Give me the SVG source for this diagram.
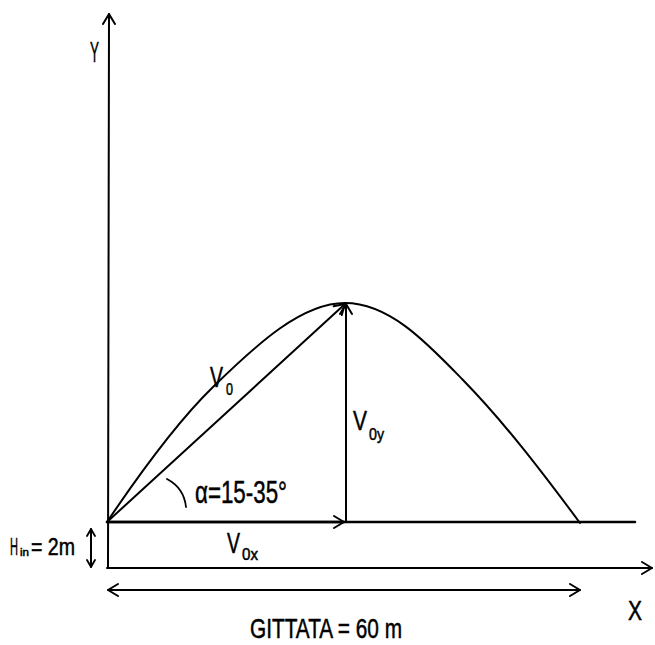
<svg xmlns="http://www.w3.org/2000/svg" width="655" height="645" viewBox="0 0 655 645">
<style>
.ln{stroke:#000;stroke-width:2;fill:none;stroke-linecap:round}
.t{font-family:"Liberation Sans Narrow","Liberation Sans",Arial,sans-serif;fill:#000;stroke:#000;stroke-width:0.5}
</style>
<defs>
<marker id="ah" markerUnits="userSpaceOnUse" markerWidth="14" markerHeight="16" refX="11" refY="7" orient="auto-start-reverse" viewBox="0 0 14 16">
<path d="M1,1 L11,7 L1,13" fill="none" stroke="#000" stroke-width="2" stroke-linecap="round" stroke-linejoin="round"/>
</marker>
<marker id="ahs" markerUnits="userSpaceOnUse" markerWidth="10" markerHeight="12" refX="8" refY="5" orient="auto-start-reverse" viewBox="0 0 10 12">
<path d="M1,1 L8,5 L1,9" fill="none" stroke="#000" stroke-width="1.8" stroke-linecap="round" stroke-linejoin="round"/>
</marker>
</defs>
<rect width="655" height="645" fill="#fff"/>

<g id="trajectory">
<path class="ln" d="M107,522 C142,470 178,421 213,387 C258,343 302,303 345,303 C390,303 428,344 463,380 C503,421 540,469 580,523"/>
</g>

<g id="connectors">
<line id="y-axis" class="ln" x1="108" y1="568" x2="109" y2="14" marker-end="url(#ah)"/>
<line id="ground" class="ln" x1="107" y1="522" x2="635" y2="522" style="stroke-width:2.5"/>
<line id="x-axis" class="ln" x1="107" y1="568" x2="652" y2="568" marker-end="url(#ah)"/>
<line id="v0" class="ln" x1="107" y1="522" x2="345" y2="304" marker-end="url(#ah)"/>
<line id="v0y" class="ln" x1="346" y1="522" x2="346" y2="304" marker-end="url(#ah)"/>
<line id="v0x" class="ln" x1="107" y1="522" x2="344" y2="522" marker-end="url(#ah)" style="stroke-width:2.5"/>
<line id="gittata" class="ln" x1="108" y1="590" x2="580" y2="590" marker-start="url(#ah)" marker-end="url(#ah)"/>
<line id="hin" class="ln" x1="91" y1="529" x2="91" y2="567" marker-start="url(#ahs)" marker-end="url(#ahs)"/>
<path id="angle-arc" class="ln" d="M167,479 Q184,488 186,507" style="stroke-width:1.8"/>
</g>

<g id="label-y"><text class="t" x="90" y="62" font-size="30" textLength="9" lengthAdjust="spacingAndGlyphs">Y</text></g>
<g id="label-x"><text class="t" x="628" y="620" font-size="28" textLength="14" lengthAdjust="spacingAndGlyphs">X</text></g>
<g id="label-v0">
<text class="t" x="210" y="387" font-size="30" textLength="13" lengthAdjust="spacingAndGlyphs">V</text>
<text class="t" x="226" y="395" font-size="17" textLength="7" lengthAdjust="spacingAndGlyphs">0</text>
</g>
<g id="label-v0y">
<text class="t" x="353" y="430" font-size="28" textLength="14" lengthAdjust="spacingAndGlyphs">V</text>
<text class="t" x="369" y="440" font-size="17" textLength="15" lengthAdjust="spacingAndGlyphs">0y</text>
</g>
<g id="label-v0x">
<text class="t" x="227" y="553" font-size="29" textLength="13" lengthAdjust="spacingAndGlyphs">V</text>
<text class="t" x="242" y="560" font-size="17" textLength="16" lengthAdjust="spacingAndGlyphs">0x</text>
</g>
<g id="label-alpha"><text class="t" x="195" y="503" font-size="32" textLength="92" lengthAdjust="spacingAndGlyphs">α=15-35°</text></g>
<g id="label-hin">
<text class="t" x="10" y="555" font-size="24" textLength="8" lengthAdjust="spacingAndGlyphs">H</text>
<text class="t" x="20" y="556" font-size="11" textLength="9" lengthAdjust="spacingAndGlyphs">in</text>
<text class="t" x="31" y="555" font-size="24" textLength="44" lengthAdjust="spacingAndGlyphs">= 2m</text>
</g>
<g id="label-gittata"><text class="t" x="250" y="638" font-size="28" textLength="152" lengthAdjust="spacingAndGlyphs">GITTATA = 60 m</text></g>
</svg>
